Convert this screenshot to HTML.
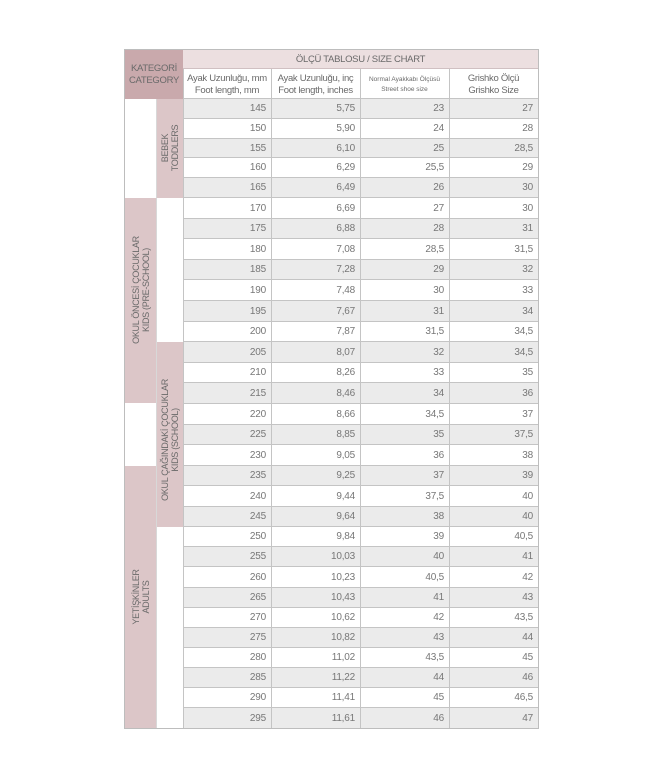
<!DOCTYPE html>
<html><head><meta charset="utf-8"><style>
body{margin:0;width:663px;height:780px;background:#fff;position:relative;font-family:"Liberation Sans",sans-serif;color:#777;overflow:hidden}
.a{position:absolute;box-sizing:border-box}
.r{position:absolute;left:183px;width:355px;box-sizing:border-box;border-bottom:1px solid #c4c4c4}
.r.g{background:#ebebeb}
.r span{position:absolute;top:0;bottom:0;display:flex;align-items:center;justify-content:flex-end;font-size:10px;padding-right:5px;box-sizing:border-box;letter-spacing:-0.2px}
.c1{left:0;width:88px}.c2{left:88px;width:89px}.c3{left:177px;width:89px}.c4{left:266px;width:89px}
.v{position:absolute;width:1px;background:#c4c4c4}
.rot{position:absolute;transform:translate(-50%,-50%) rotate(-90deg);white-space:nowrap;text-align:center;font-size:9px;line-height:10px;color:#6a6a6a;letter-spacing:-0.3px}
.h{position:absolute;text-align:center;font-size:9.5px;line-height:12px;color:#6a6a6a;white-space:nowrap;letter-spacing:-0.3px}
</style></head><body>
<div class="a" style="left:124px;top:49px;width:415px;height:680px;border:1px solid #bdbdbd"></div>
<div class="a" style="left:125px;top:50px;width:58px;height:49px;background:#c9a9ac"></div>
<div class="h" style="left:125px;top:63px;width:58px">KATEGORİ<br>CATEGORY</div>
<div class="a" style="left:183px;top:50px;width:355px;height:19px;background:#ecdfe0;border-bottom:1px solid #d0c0c2"></div>
<div class="h" style="left:183px;top:54px;width:355px">ÖLÇÜ TABLOSU / SIZE CHART</div>
<div class="h" style="left:183px;top:73px;width:88px">Ayak Uzunluğu, mm<br>Foot length, mm</div>
<div class="h" style="left:271px;top:73px;width:89px">Ayak Uzunluğu, inç<br>Foot length, inches</div>
<div class="h" style="left:360px;top:75px;width:89px;font-size:6.5px;line-height:10px;letter-spacing:0">Normal Ayakkabı Ölçüsü<br>Street shoe size</div>
<div class="h" style="left:449px;top:73px;width:89px">Grishko Ölçü<br>Grishko Size</div>
<div class="a" style="left:183px;top:98px;width:355px;height:1px;background:#c4c4c4"></div>

<div class="a" style="left:125px;top:198px;width:31px;height:205px;background:#dcc6c8"></div>
<div class="a" style="left:125px;top:466px;width:31px;height:262px;background:#dcc6c8"></div>
<div class="a" style="left:156px;top:99px;width:27px;height:99px;background:#dcc6c8"></div>
<div class="a" style="left:156px;top:342px;width:27px;height:185px;background:#dcc6c8"></div>
<div class="v" style="left:156px;top:99px;height:629px;background:#d8d8d8"></div>

<div class="rot" style="left:170px;top:148px">BEBEK<br>TODDLERS</div>
<div class="rot" style="left:141px;top:290px">OKUL ÖNCESİ ÇOCUKLAR<br>KIDS  (PRE-SCHOOL)</div>
<div class="rot" style="left:170px;top:440px">OKUL ÇAĞINDAKİ ÇOCUKLAR<br>KIDS (SCHOOL)</div>
<div class="rot" style="left:141px;top:597px">YETİŞKİNLER<br>ADULTS</div>

<div class="r g" style="top:99px;height:20px"><span class="c1">145</span><span class="c2">5,75</span><span class="c3">23</span><span class="c4">27</span></div>
<div class="r" style="top:119px;height:20px"><span class="c1">150</span><span class="c2">5,90</span><span class="c3">24</span><span class="c4">28</span></div>
<div class="r g" style="top:139px;height:19px"><span class="c1">155</span><span class="c2">6,10</span><span class="c3">25</span><span class="c4">28,5</span></div>
<div class="r" style="top:158px;height:20px"><span class="c1">160</span><span class="c2">6,29</span><span class="c3">25,5</span><span class="c4">29</span></div>
<div class="r g" style="top:178px;height:20px"><span class="c1">165</span><span class="c2">6,49</span><span class="c3">26</span><span class="c4">30</span></div>
<div class="r" style="top:198px;height:21px"><span class="c1">170</span><span class="c2">6,69</span><span class="c3">27</span><span class="c4">30</span></div>
<div class="r g" style="top:219px;height:20px"><span class="c1">175</span><span class="c2">6,88</span><span class="c3">28</span><span class="c4">31</span></div>
<div class="r" style="top:239px;height:21px"><span class="c1">180</span><span class="c2">7,08</span><span class="c3">28,5</span><span class="c4">31,5</span></div>
<div class="r g" style="top:260px;height:20px"><span class="c1">185</span><span class="c2">7,28</span><span class="c3">29</span><span class="c4">32</span></div>
<div class="r" style="top:280px;height:21px"><span class="c1">190</span><span class="c2">7,48</span><span class="c3">30</span><span class="c4">33</span></div>
<div class="r g" style="top:301px;height:21px"><span class="c1">195</span><span class="c2">7,67</span><span class="c3">31</span><span class="c4">34</span></div>
<div class="r" style="top:322px;height:20px"><span class="c1">200</span><span class="c2">7,87</span><span class="c3">31,5</span><span class="c4">34,5</span></div>
<div class="r g" style="top:342px;height:21px"><span class="c1">205</span><span class="c2">8,07</span><span class="c3">32</span><span class="c4">34,5</span></div>
<div class="r" style="top:363px;height:20px"><span class="c1">210</span><span class="c2">8,26</span><span class="c3">33</span><span class="c4">35</span></div>
<div class="r g" style="top:383px;height:21px"><span class="c1">215</span><span class="c2">8,46</span><span class="c3">34</span><span class="c4">36</span></div>
<div class="r" style="top:404px;height:21px"><span class="c1">220</span><span class="c2">8,66</span><span class="c3">34,5</span><span class="c4">37</span></div>
<div class="r g" style="top:425px;height:20px"><span class="c1">225</span><span class="c2">8,85</span><span class="c3">35</span><span class="c4">37,5</span></div>
<div class="r" style="top:445px;height:21px"><span class="c1">230</span><span class="c2">9,05</span><span class="c3">36</span><span class="c4">38</span></div>
<div class="r g" style="top:466px;height:20px"><span class="c1">235</span><span class="c2">9,25</span><span class="c3">37</span><span class="c4">39</span></div>
<div class="r" style="top:486px;height:21px"><span class="c1">240</span><span class="c2">9,44</span><span class="c3">37,5</span><span class="c4">40</span></div>
<div class="r g" style="top:507px;height:20px"><span class="c1">245</span><span class="c2">9,64</span><span class="c3">38</span><span class="c4">40</span></div>
<div class="r" style="top:527px;height:20px"><span class="c1">250</span><span class="c2">9,84</span><span class="c3">39</span><span class="c4">40,5</span></div>
<div class="r g" style="top:547px;height:20px"><span class="c1">255</span><span class="c2">10,03</span><span class="c3">40</span><span class="c4">41</span></div>
<div class="r" style="top:567px;height:21px"><span class="c1">260</span><span class="c2">10,23</span><span class="c3">40,5</span><span class="c4">42</span></div>
<div class="r g" style="top:588px;height:20px"><span class="c1">265</span><span class="c2">10,43</span><span class="c3">41</span><span class="c4">43</span></div>
<div class="r" style="top:608px;height:20px"><span class="c1">270</span><span class="c2">10,62</span><span class="c3">42</span><span class="c4">43,5</span></div>
<div class="r g" style="top:628px;height:20px"><span class="c1">275</span><span class="c2">10,82</span><span class="c3">43</span><span class="c4">44</span></div>
<div class="r" style="top:648px;height:20px"><span class="c1">280</span><span class="c2">11,02</span><span class="c3">43,5</span><span class="c4">45</span></div>
<div class="r g" style="top:668px;height:20px"><span class="c1">285</span><span class="c2">11,22</span><span class="c3">44</span><span class="c4">46</span></div>
<div class="r" style="top:688px;height:20px"><span class="c1">290</span><span class="c2">11,41</span><span class="c3">45</span><span class="c4">46,5</span></div>
<div class="r g" style="top:708px;height:20px;border-bottom:none"><span class="c1">295</span><span class="c2">11,61</span><span class="c3">46</span><span class="c4">47</span></div>

<div class="v" style="left:183px;top:69px;height:659px"></div>
<div class="v" style="left:271px;top:69px;height:659px"></div>
<div class="v" style="left:360px;top:69px;height:659px"></div>
<div class="v" style="left:449px;top:69px;height:659px"></div>
</body></html>
